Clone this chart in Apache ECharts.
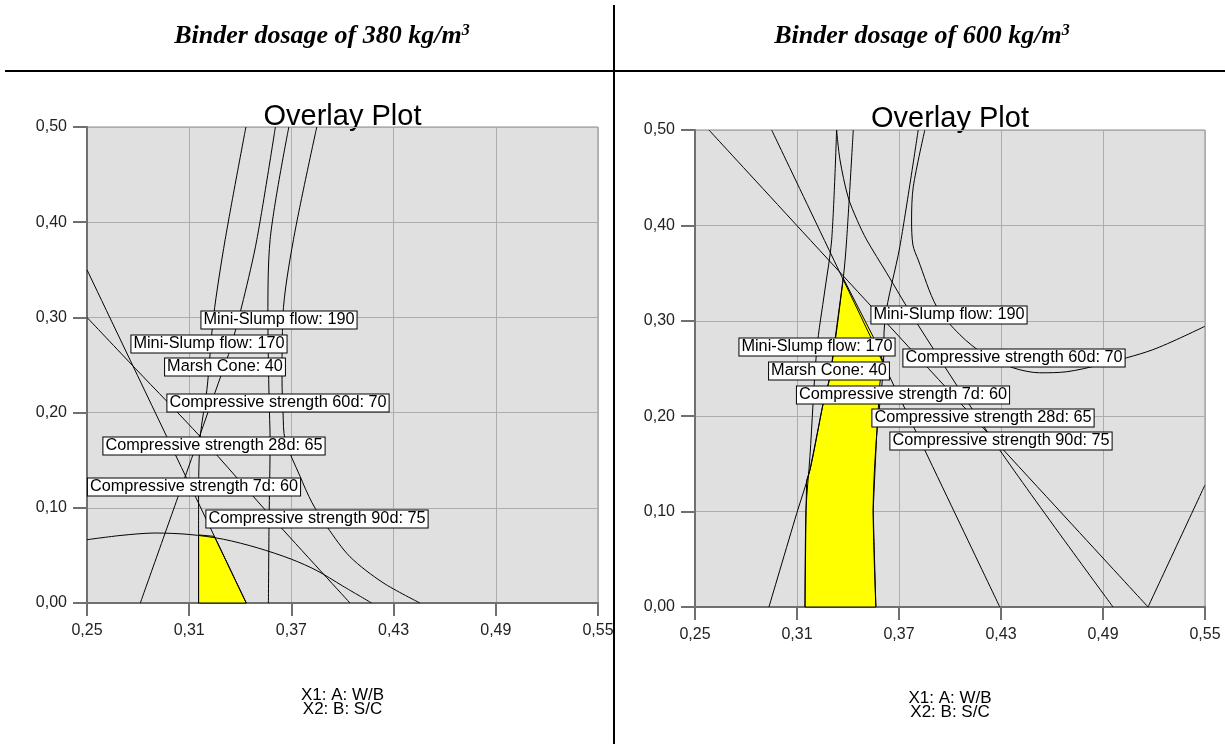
<!DOCTYPE html>
<html><head><meta charset="utf-8">
<script src="https://cdn.jsdelivr.net/npm/echarts@6/dist/echarts.min.js"></script>
<style>html,body{margin:0;padding:0;background:#fff}#c{width:1225px;height:744px}</style>
</head><body><div id="c"></div>
<script>
// ---------- tick labels ----------
const xTickLabels = ['0,25','0,31','0,37','0,43','0,49','0,55'];
const yTickLabels = ['0,00','0,10','0,20','0,30','0,40','0,50'];
const headers = ['Binder dosage of 380 kg/m', 'Binder dosage of 600 kg/m'];
const plotTitle = 'Overlay Plot';
const axisNames = ['X1: A: W/B', 'X2: B: S/C'];

// ---------- left panel (380 kg/m3): contour curves [W/B, S/C] ----------
const L_lineA = [[0.25,0.35],[0.3435,0]];
const L_lineB = [[0.25,0.30],[0.2783,0.2465],[0.3165,0.1747],[0.36,0.087],[0.4044,0]];
const L_arc   = [[0.25,0.0665],[0.27,0.071],[0.29,0.0735],[0.31,0.072],[0.33,0.067],[0.35,0.058],[0.37,0.046],[0.385,0.034],[0.40,0.018],[0.4171,0]];
const L_c1    = [[0.3433,0.5],[0.3311,0.3816],[0.3243,0.3011],[0.3204,0.2241],[0.3165,0.1747],[0.3155,0.1085],[0.3155,0]];
const L_c2    = [[0.3606,0.5],[0.3497,0.3816],[0.3418,0.3186],[0.3340,0.2661],[0.3299,0.2451],[0.3056,0.1225],[0.2813,0]];
const L_c3    = [[0.3685,0.5],[0.3575,0.3816],[0.3562,0.3011],[0.3569,0.2136],[0.3575,0.1716],[0.3569,0.0875],[0.3565,0]];
const L_c4    = [[0.3849,0.5],[0.3712,0.3816],[0.3650,0.3011],[0.3645,0.2346],[0.3651,0.1999],[0.3663,0.1716],[0.3751,0.133],[0.3821,0.1054],[0.3909,0.0801],[0.4044,0.0486],[0.4238,0.0213],[0.4455,0]];
const L_region = [[0.3155,0],[0.3155,0.0715],[0.3248,0.070],[0.3435,0]];
const L_labels = [
  [0.3628,0.2976,'Mini-Slump flow: 190'],
  [0.3217,0.2724,'Mini-Slump flow: 170'],
  [0.3308,0.2475,'Marsh Cone: 40'],
  [0.3622,0.2099,'Compressive strength 60d: 70'],
  [0.3247,0.1647,'Compressive strength 28d: 65'],
  [0.3129,0.1222,'Compressive strength 7d: 60'],
  [0.3852,0.0886,'Compressive strength 90d: 75']
];

// ---------- right panel (600 kg/m3) ----------
const R_line1 = [[0.2582,0.5],[0.5165,0]];
const R_line4 = [[0.2951,0.5],[0.4293,0]];
const R_c9    = [[0.3333,0.5],[0.3353,0.4686],[0.34,0.43],[0.3455,0.405],[0.351,0.3848],[0.3627,0.3503],[0.3804,0.2979],[0.4293,0.1644],[0.4959,0]];
const R_vee   = [[0.5165,0],[0.5499,0.1276]];
const R_c5    = [[0.3813,0.5],[0.3705,0.3778],[0.3617,0.3008],[0.3607,0.2484],[0.3568,0.1784],[0.3548,0.1015],[0.3564,0]];
const R_c6    = [[0.3431,0.5],[0.3392,0.3848],[0.3372,0.3446],[0.3294,0.2413],[0.3254,0.2134],[0.3176,0.1434],[0.3098,0.098],[0.2935,0]];
const R_c7    = [[0.3333,0.5],[0.3304,0.3848],[0.3264,0.3323],[0.3216,0.2694],[0.3176,0.1574],[0.3153,0.1015],[0.3147,0]];
const R_c8    = [[0.3852,0.5],[0.3784,0.4405],[0.3774,0.4056],[0.3782,0.3793],[0.3813,0.3638],[0.3921,0.315],[0.4058,0.2854],[0.4205,0.2644],[0.437,0.2508],[0.4528,0.2455],[0.4687,0.2466],[0.4881,0.2539],[0.5193,0.2697],[0.5499,0.2942]];
const R_region = [[0.3147,0],[0.3153,0.1015],[0.3157,0.1329],[0.3176,0.1434],[0.3254,0.2134],[0.3294,0.2413],[0.3372,0.3446],[0.3548,0.2833],[0.3605,0.2581],[0.3587,0.2336],[0.3568,0.1784],[0.3548,0.1015],[0.3564,0]];
const R_labels = [
  [0.3995,0.3061,'Mini-Slump flow: 190'],
  [0.3219,0.2728,'Mini-Slump flow: 170'],
  [0.4374,0.2607,'Compressive strength 60d: 70'],
  [0.3287,0.2478,'Marsh Cone: 40'],
  [0.3726,0.2227,'Compressive strength 7d: 60'],
  [0.4193,0.1977,'Compressive strength 28d: 65'],
  [0.4300,0.1741,'Compressive strength 90d: 75']
];

// ---------- build ----------
const X0 = 0.25, XSTEP = 0.06;
const tx = x => (x - X0) / XSTEP;
const FONT = '"Liberation Sans", Arial, sans-serif';

const grids = [
  {left:87, top:127, width:511, height:476},
  {left:695, top:130, width:510, height:477}
];

function lineSeries(pts, i) {
  return {type:'line', xAxisIndex:i, yAxisIndex:i, data:pts.map(p=>[tx(p[0]),p[1]]),
    smooth:0.3, showSymbol:false, symbol:'none', lineStyle:{color:'#000', width:1},
    silent:true, z:3, animation:false};
}
function polySeries(pts, i) {
  return {type:'custom', xAxisIndex:i, yAxisIndex:i, data:[[0,0]], silent:true, animation:false, z:2,
    renderItem:(params, api)=>({type:'polygon',
      shape:{points: pts.map(p=>api.coord([tx(p[0]),p[1]]))},
      style:{fill:'#ffff00', stroke:'#000', lineWidth:1}})};
}
function labelSeries(list, i) {
  return {type:'custom', xAxisIndex:i, yAxisIndex:i, silent:true, animation:false, z:6,
    data:list.map(l=>[tx(l[0]), l[1], l[2]]),
    renderItem:(params, api)=>{
      const p = api.coord([api.value(0), api.value(1)]);
      return {type:'text', x:Math.round(p[0]), y:Math.round(p[1]), style:{
        text:list[params.dataIndex][2], fill:'#000', font:'16.3px '+FONT,
        align:'center', verticalAlign:'middle',
        backgroundColor:'#fff', borderColor:'#000', borderWidth:1, padding:[1,2,0,2]}};
    }};
}

const xAxes = grids.map((g,i)=>({gridIndex:i, type:'value', min:0, max:5, interval:1,
  axisLine:{show:true, onZero:false, lineStyle:{color:'#707070', width:2}},
  axisTick:{show:true, length:13, lineStyle:{color:'#707070', width:2}},
  axisLabel:{margin:20, color:'#222', fontSize:16, fontFamily:FONT, formatter:v=>xTickLabels[Math.round(v)]},
  splitLine:{show:true, lineStyle:{color:'#adadad', width:1}}}));
const yAxes = grids.map((g,i)=>({gridIndex:i, type:'value', min:0, max:0.5, interval:0.1,
  axisLine:{show:true, onZero:false, lineStyle:{color:'#707070', width:2}},
  axisTick:{show:true, length:14, lineStyle:{color:'#707070', width:2}},
  axisLabel:{margin:20, color:'#222', fontSize:16, fontFamily:FONT, formatter:v=>yTickLabels[Math.round(v*10)]},
  splitLine:{show:true, lineStyle:{color:'#adadad', width:1}}}));

const series = [
  polySeries(L_region,0),
  ...[L_lineA,L_lineB,L_arc,L_c1,L_c2,L_c3,L_c4].map(s=>lineSeries(s,0)),
  labelSeries(L_labels,0),
  polySeries(R_region,1),
  ...[R_line1,R_line4,R_c9,R_vee,R_c5,R_c6,R_c7,R_c8].map(s=>lineSeries(s,1)),
  labelSeries(R_labels,1)
];

const centers = [87+511/2, 695+510/2];
const graphic = [];
headers.forEach((h,i)=>{
  graphic.push({type:'text', x:[322,922][i], y:36, style:{
    text:'{b|'+h+'}{s|3}', align:'center', verticalAlign:'middle',
    rich:{b:{font:'bold italic 26px "Liberation Serif", "Times New Roman", serif', fill:'#000'},
          s:{font:'bold italic 16px "Liberation Serif", "Times New Roman", serif', fill:'#000', verticalAlign:'top'}}}});
  graphic.push({type:'text', x:centers[i], y:[117,119][i], style:{text:plotTitle, align:'center', verticalAlign:'middle',
    font:'29px '+FONT, fill:'#000'}});
  graphic.push({type:'text', x:centers[i], y:[695,698][i], style:{text:axisNames[0], align:'center', verticalAlign:'middle',
    font:'17px '+FONT, fill:'#000'}});
  graphic.push({type:'text', x:centers[i], y:[709,712][i], style:{text:axisNames[1], align:'center', verticalAlign:'middle',
    font:'17px '+FONT, fill:'#000'}});
});
graphic.push({type:'line', shape:{x1:5,y1:71,x2:1225,y2:71}, style:{stroke:'#000', lineWidth:2}});
graphic.push({type:'line', shape:{x1:614,y1:5,x2:614,y2:744}, style:{stroke:'#000', lineWidth:2}});

const chart = echarts.init(document.getElementById('c'));
chart.setOption({
  backgroundColor:'#fff',
  animation:false,
  grid: grids.map(g=>Object.assign({show:true, backgroundColor:'#e0e0e0', borderColor:'#8c8c8c', borderWidth:1}, g)),
  xAxis:xAxes, yAxis:yAxes, series, graphic
});
</script></body></html>
